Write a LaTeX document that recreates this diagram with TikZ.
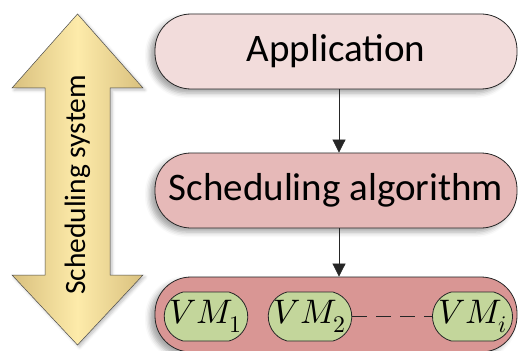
\documentclass[tikz,border=0pt]{standalone}
\usepackage{fontspec}
\usepackage{unicode-math}
\setmainfont{Carlito}
\setmathfont{Latin Modern Math}
\usetikzlibrary{arrows.meta,shadows.blur,shapes.misc}
\definecolor{appfill}{HTML}{F2DCDB}
\definecolor{algfill}{HTML}{E6B9B8}
\definecolor{vmboxfill}{HTML}{D99694}
\definecolor{vmfill}{HTML}{C3D69B}
\definecolor{arrowmid}{HTML}{FDEBAA}
\definecolor{arrowedge}{HTML}{D9C07E}
\tikzset{
  layerbox/.style={draw=black!85, line width=0.8pt, rounded corners=36pt,
    minimum width=362pt, inner sep=0pt,
    blur shadow={shadow xshift=-5pt, shadow yshift=-4pt, shadow opacity=35, shadow blur radius=5pt},
    font=\fontsize{39}{42}\selectfont},
  vmnode/.style={draw=black!85, line width=0.8pt, fill=vmfill, rounded rectangle,
    rounded rectangle arc length=150,
    minimum height=49pt, inner sep=0pt, font=\fontsize{34}{36}\selectfont},
  flow/.style={-{Triangle[width=13pt,length=13pt]}, line width=0.7pt, black!85},
}
\begin{document}
\begin{tikzpicture}[x=1pt,y=-1pt]
\useasboundingbox (0,0) rectangle (518,350);
% double arrow
\path[draw=black!70, line width=0.5pt, left color=arrowedge, right color=arrowedge, middle color=arrowmid,
  blur shadow={shadow xshift=2pt, shadow yshift=-2pt, shadow opacity=25, shadow blur radius=3pt}]
  (77.5,14) -- (143,88) -- (110,88) -- (110,275) -- (143,275) -- (77.5,345)
  -- (12,275) -- (45,275) -- (45,88) -- (12,88) -- cycle;
\node[rotate=90, font=\fontsize{29.5}{32}\selectfont] (sys) at (77.5,185) {Scheduling system};
% layers
\node[layerbox, fill=appfill, minimum height=75pt] (app) at (336,51.5) {Application};
\node[layerbox, fill=algfill, minimum height=75pt] (alg) at (336,190.5) {Scheduling algorithm};
\node[layerbox, fill=vmboxfill, minimum height=75pt] (vmbox) at (336,314.5) {};
\node[vmnode, minimum width=82pt] (vm1) at (206,316.5) {$VM_1$};
\node[vmnode, minimum width=80pt] (vm2) at (310,316.5) {$VM_2$};
\node[vmnode, minimum width=79pt] (vmi) at (472.5,316.5) {$VM_i$};
\draw[line width=1pt, black!85, dash pattern=on 15pt off 9pt] (vm2.east) -- (vmi.west);
\draw[flow] ([xshift=3pt]app.south) -- ([xshift=3pt]alg.north);
\draw[flow] ([xshift=3pt]alg.south) -- ([xshift=3pt]vmbox.north);
\end{tikzpicture}
\end{document}
